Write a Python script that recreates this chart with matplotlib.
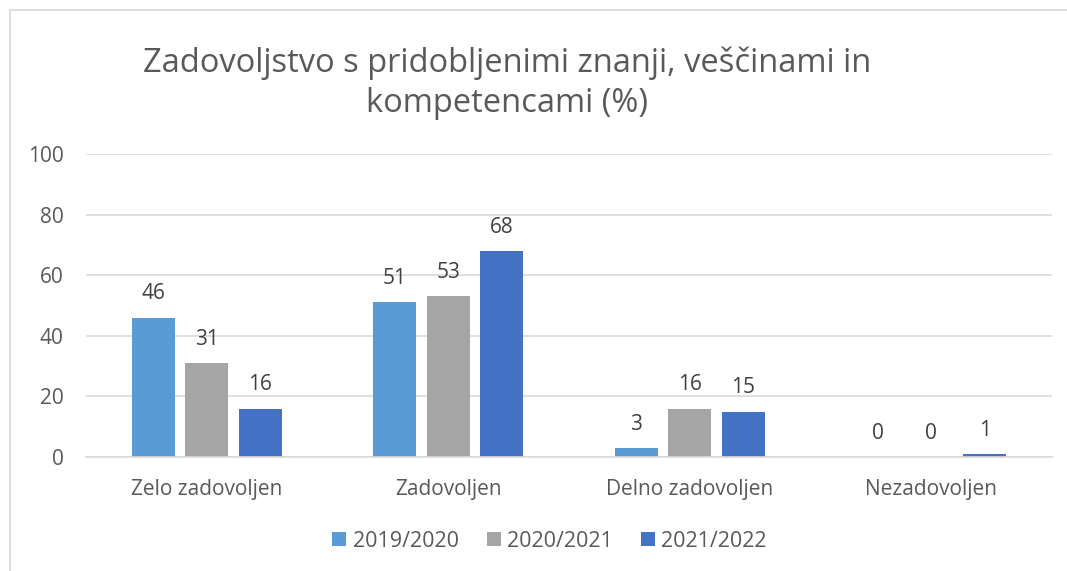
import matplotlib
matplotlib.use('Agg')
import matplotlib.pyplot as plt
from matplotlib.lines import Line2D
import numpy as np

CATEGORIES = ['Zelo zadovoljen', 'Zadovoljen', 'Delno zadovoljen', 'Nezadovoljen']
YEARS = ['2019/2020', '2020/2021', '2021/2022']
V_2019 = [46, 51, 3, 0]
V_2020 = [31, 53, 16, 0]
V_2021 = [16, 68, 15, 1]
COLORS = ['#5B9BD5', '#A5A5A5', '#4472C4']
TITLE = 'Zadovoljstvo s pridobljenimi znanji, veščinami in\nkompetencami (%)'

TEXT = '#595959'
GRID = '#D9D9D9'

plt.rcParams['font.family'] = ['Open Sans', 'DejaVu Sans']

fig = plt.figure(figsize=(10.67, 5.71), dpi=100)
ax = fig.add_axes([0.0806, 0.1996, 0.9054, 0.5307])

x = np.arange(len(CATEGORIES))
width = 0.178
step = 0.2215
for i, (vals, year, col) in enumerate(zip([V_2019, V_2020, V_2021], YEARS, COLORS)):
    pos = x + (i - 1) * step
    ax.bar(pos, vals, width, color=col, label=year, zorder=3)
    for xp, v in zip(pos, vals):
        ax.annotate(str(v), (xp, v), xytext=(0, 9.5), textcoords='offset points',
                    ha='center', va='bottom', fontsize=15, color='#404040')

ax.set_xlim(-0.5, 3.5)
ax.set_ylim(0, 100)
ax.set_yticks(range(0, 101, 20))
ax.set_xticks(x)
ax.set_xticklabels(CATEGORIES)
ax.tick_params(axis='both', length=0, labelsize=15, colors=TEXT)
ax.tick_params(axis='y', pad=16)
ax.tick_params(axis='x', pad=16)
ax.yaxis.grid(True, color=GRID, linewidth=1.2, zorder=0)
for s in ['top', 'right', 'left']:
    ax.spines[s].set_visible(False)
ax.spines['bottom'].set_color(GRID)
ax.spines['bottom'].set_linewidth(1.2)
ax.spines['bottom'].set_zorder(4)

fig.text(0.475, 0.855, TITLE, ha='center', va='center', fontsize=23.5,
         color=TEXT, linespacing=1.28)

leg = fig.legend(loc='center', bbox_to_anchor=(0.515, 0.052), ncol=3, frameon=False,
                 fontsize=15.5, handlelength=0.65, handleheight=0.65, handletextpad=0.3,
                 columnspacing=1.3)
for t in leg.get_texts():
    t.set_color(TEXT)

# chart frame (top and left edges visible)
fig.add_artist(Line2D([0.0094, 1.0], [1 - 10 / 571, 1 - 10 / 571], color='#D9D9D9', lw=1.2))
fig.add_artist(Line2D([0.0094, 0.0094], [0.0, 1 - 10 / 571], color='#D9D9D9', lw=1.2))

fig.savefig('out.png', dpi=100)
